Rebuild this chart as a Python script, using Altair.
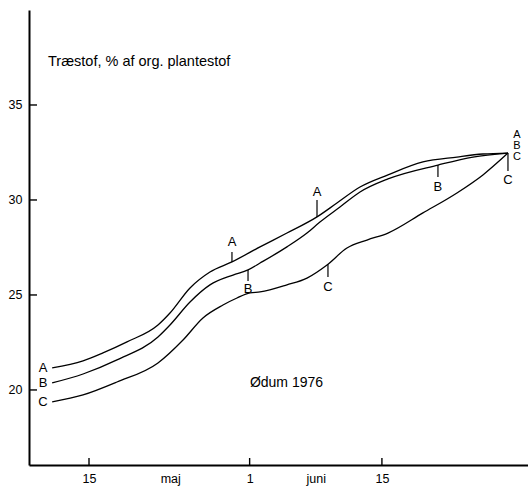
import altair as alt
import numpy as np
import pandas as pd

# Day numbers counted from 1 May (1 June = 32, 15 June = 46)
days_a = [11.1, 14.37, 16.48, 19.02, 22.30, 23.57, 25.69, 27.80, 30.13, 33.10,
          35.95, 39.13, 41.24, 43.68, 46.64, 50.34, 53.94, 56.69, 59.34]
vals_a = [21.16, 21.53, 21.95, 22.53, 23.42, 24.05, 25.37, 26.21, 26.74, 27.53,
          28.26, 29.11, 29.84, 30.68, 31.32, 32.00, 32.26, 32.42, 32.47]

days_b = [11.1, 14.37, 17.96, 22.30, 23.57, 25.69, 27.80, 30.24, 31.83, 33.10,
          35.95, 38.07, 39.44, 41.56, 43.68, 46.64, 51.93, 55.63, 59.34]
vals_b = [20.37, 20.84, 21.58, 22.79, 23.42, 24.63, 25.53, 26.05, 26.32, 26.68,
          27.53, 28.26, 28.84, 29.63, 30.42, 31.11, 31.84, 32.26, 32.47]

days_c = [11.1, 14.37, 17.96, 22.30, 24.95, 27.06, 29.18, 30.66, 32.04, 33.10,
          35.95, 38.07, 40.19, 42.30, 44.42, 46.64, 50.34, 53.94, 56.69, 59.34]
vals_c = [19.37, 19.74, 20.42, 21.42, 22.63, 23.79, 24.47, 24.84, 25.11, 25.16,
          25.53, 25.89, 26.58, 27.47, 27.89, 28.26, 29.32, 30.37, 31.32, 32.47]

series_names = ["A", "B", "C"]

# Axis ticks and labels
y_tick_values = [20, 25, 30, 35]
x_tick_days = [15, 32, 46]
x_tick_labels = ["15", "1", "15"]
month_days = [23.6, 39.0]
month_names = ["maj", "juni"]

# Curve call-outs: series, day, end of the pointer line, label position
callout_series = ["A", "B", "A", "C", "B", "C"]
callout_days = [30.13, 31.83, 39.13, 40.29, 51.93, 59.34]
callout_ends = [27.26, 25.74, 30.00, 25.95, 31.21, 31.53]
callout_label_y = [27.79, 25.32, 30.42, 25.42, 30.68, 31.05]

# Series letters at the start and at the common end point
start_label_day = 10.13
start_label_y = [21.16, 20.37, 19.37]
end_label_day = 60.3
end_label_y = [33.40, 32.84, 32.26]

title_text = "Træstof, % af org. plantestof"
title_pos = (10.66, 37.26)
place_text = "Ødum 1976"
place_pos = (35.9, 20.37)

FONT = "Liberation Sans"

series_data = {"A": (days_a, vals_a), "B": (days_b, vals_b), "C": (days_c, vals_c)}
curves = pd.concat(
    [pd.DataFrame({"series": s, "day": d, "value": v}) for s, (d, v) in series_data.items()],
    ignore_index=True,
)

callouts = pd.DataFrame({
    "series": callout_series,
    "day": callout_days,
    "y0": [float(np.interp(d, *series_data[s])) for s, d in zip(callout_series, callout_days)],
    "y1": callout_ends,
    "ly": callout_label_y,
})

starts = pd.DataFrame({"label": series_names, "day": start_label_day, "value": start_label_y})
ends = pd.DataFrame({"label": series_names, "day": end_label_day, "value": end_label_y})
title_df = pd.DataFrame({"text": [title_text], "day": [title_pos[0]], "value": [title_pos[1]]})
place_df = pd.DataFrame({"text": [place_text], "day": [place_pos[0]], "value": [place_pos[1]]})

label_lookup = dict(zip(x_tick_days + month_days, x_tick_labels + month_names))
label_expr = " : ".join(f"datum.value == {k} ? '{v}'" for k, v in label_lookup.items()) + " : ''"

xscale = alt.Scale(domain=[8.65, 61.46], nice=False, zero=False)
yscale = alt.Scale(domain=[16.05, 40.0], nice=False, zero=False)

x_axis = alt.Axis(values=x_tick_days + month_days, labelExpr=label_expr, title=None,
                  ticks=False, labelPadding=7, grid=False, labelFlush=False)
y_axis = alt.Axis(values=y_tick_values, title=None, ticks=False, labelPadding=7, grid=False)


def X(field):
    return alt.X(field, type="quantitative", scale=xscale, axis=x_axis)


def Y(field):
    return alt.Y(field, type="quantitative", scale=yscale, axis=y_axis)


lines = alt.Chart(curves).mark_line(interpolate="monotone", color="black", strokeWidth=1.3).encode(
    x=X("day"), y=Y("value"), detail="series:N",
)

y_ticks = alt.Chart(pd.DataFrame({"value": y_tick_values})).mark_rule(color="black", strokeWidth=1.4).encode(
    y=Y("value"), x=alt.value(0), x2=alt.value(8),
)

x_ticks = alt.Chart(pd.DataFrame({"day": x_tick_days})).mark_rule(color="black", strokeWidth=1.4).encode(
    x=X("day"), y=alt.value(455), y2=alt.value(448),
)

pointers = alt.Chart(callouts).mark_rule(color="black", strokeWidth=1.2).encode(
    x=X("day"), y=Y("y0"), y2="y1:Q",
)

pointer_labels = alt.Chart(callouts).mark_text(font=FONT, fontSize=13, color="black").encode(
    x=X("day"), y=Y("ly"), text="series:N",
)

start_labels = alt.Chart(starts).mark_text(font=FONT, fontSize=13, color="black").encode(
    x=X("day"), y=Y("value"), text="label:N",
)

end_labels = alt.Chart(ends).mark_text(font=FONT, fontSize=11, color="black").encode(
    x=X("day"), y=Y("value"), text="label:N",
)

title_label = alt.Chart(title_df).mark_text(font=FONT, fontSize=14.5, color="black", align="left").encode(
    x=X("day"), y=Y("value"), text="text:N",
)

place_label = alt.Chart(place_df).mark_text(font=FONT, fontSize=14, color="black", align="center").encode(
    x=X("day"), y=Y("value"), text="text:N",
)

chart = alt.layer(
    lines, y_ticks, x_ticks, pointers, pointer_labels, start_labels, end_labels, title_label, place_label
).properties(
    width=499,
    height=455,
    autosize=alt.AutoSizeParams(type="none"),
    padding={"left": 29, "top": 10, "right": 0, "bottom": 31},
    background="white",
).configure_view(
    stroke=None,
).configure_axis(
    domainColor="black",
    domainWidth=2,
    labelFont=FONT,
    labelFontSize=12.5,
    labelColor="black",
)

chart.save("out.html", embed_options={"renderer": "svg", "actions": False})
